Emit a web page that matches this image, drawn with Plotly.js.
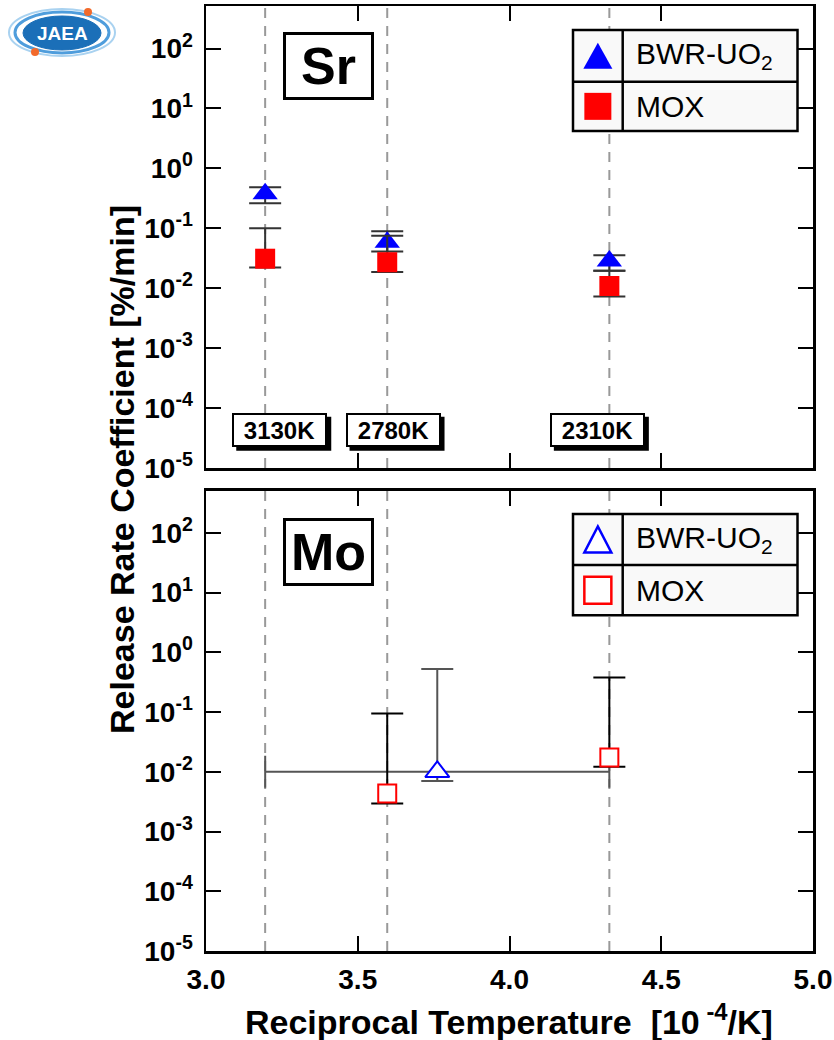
<!DOCTYPE html>
<html>
<head>
<meta charset="utf-8">
<script src="https://cdn.plot.ly/plotly-3.0.1.min.js"></script>
<style>
  html, body { margin: 0; padding: 0; background: #fff; }
  #chart { width: 834px; height: 1040px; }
</style>
</head>
<body>
<div id="chart"></div>
<script>
// Test temperatures [K] and their reciprocal positions [10^-4/K]
const tempK = [3130, 2780, 2310];
const invT = tempK.map(t => 1e4 / t);

// Sr release rate coefficients [%/min]
const srUO2 = [0.376, 0.0584, 0.0285];
const srUO2Hi = [0.485, 0.089, 0.0354];
const srUO2Lo = [0.262, 0.0412, 0.0196];
const srMOX = [0.0311, 0.0272, 0.0109];
const srMOXHi = [0.100, 0.0755, 0.0196];
const srMOXLo = [0.0221, 0.0187, 0.0073];

// Mo release rate coefficients [%/min]
const moMOXTemp = [2780, 2310];
const moMOX = [0.00433, 0.0174];
const moMOXHi = [0.095, 0.381];
const moMOXLo = [0.00296, 0.0122];
// BWR-UO2 Mo: one value spanning the whole temperature range
const moUO2X = [3.762];
const moUO2XSpan = [0.567];
const moUO2 = [0.01];
const moUO2Hi = [0.527];
const moUO2Lo = [0.00705];

// Axis ticks
const yTickVals = [1e-5, 1e-4, 1e-3, 1e-2, 1e-1, 1e0, 1e1, 1e2];
const yTickText = ['10<sup>-5</sup>', '10<sup>-4</sup>', '10<sup>-3</sup>', '10<sup>-2</sup>',
                   '10<sup>-1</sup>', '10<sup>0</sup>', '10<sup>1</sup>', '10<sup>2</sup>'];
const xTickVals = [3.0, 3.5, 4.0, 4.5, 5.0];
const xTickText = ['3.0', '3.5', '4.0', '4.5', '5.0'];

const seriesNames = ['BWR-UO<sub>2</sub>', 'MOX'];
const panelNames = ['Sr', 'Mo'];

const FONT = 'Liberation Sans, Arial, Helvetica, sans-serif';
const BLUE = '#0000ff', RED = '#ff0000';

// plot-area geometry in pixels, for placing decorations in paper units
const L = 206, T = 6, W = 607, H = 945;
const PX = p => (p - L) / W;
const PY = p => (T + H - p) / H;

const up = (v, hi) => hi.map((h, i) => h - v[i]);
const dn = (v, lo) => lo.map((l, i) => v[i] - l);

const errStyle = (color) => ({ type: 'data', symmetric: false, color: color, thickness: 2, width: 16 });

const traces = [
  // Sr panel (top)
  {
    x: invT, y: srUO2, xaxis: 'x2', yaxis: 'y2', mode: 'markers', type: 'scatter',
    marker: { symbol: 'triangle-up', size: 22, color: BLUE, line: { width: 0 } },
    error_y: Object.assign(errStyle('#333333'), { array: up(srUO2, srUO2Hi), arrayminus: dn(srUO2, srUO2Lo) }),
    showlegend: false, hoverinfo: 'x+y'
  },
  {
    x: invT, y: srMOX, xaxis: 'x2', yaxis: 'y2', mode: 'markers', type: 'scatter',
    marker: { symbol: 'square', size: 20, color: RED, line: { width: 0 } },
    error_y: Object.assign(errStyle('#333333'), { array: up(srMOX, srMOXHi), arrayminus: dn(srMOX, srMOXLo) }),
    showlegend: false, hoverinfo: 'x+y'
  },
  // Mo panel (bottom)
  {
    x: moUO2X, y: moUO2, xaxis: 'x', yaxis: 'y', mode: 'markers', type: 'scatter',
    marker: { symbol: 'triangle-up', size: 21, color: '#ffffff', line: { width: 2, color: BLUE } },
    error_y: Object.assign(errStyle('#555555'), { array: up(moUO2, moUO2Hi), arrayminus: dn(moUO2, moUO2Lo) }),
    error_x: { type: 'data', symmetric: true, array: moUO2XSpan, color: '#555555', thickness: 2, width: 16 },
    showlegend: false, hoverinfo: 'x+y'
  },
  {
    x: moMOXTemp.map(t => 1e4 / t), y: moMOX, xaxis: 'x', yaxis: 'y', mode: 'markers', type: 'scatter',
    marker: { symbol: 'square', size: 18, color: '#ffffff', line: { width: 2, color: RED } },
    error_y: Object.assign(errStyle('#000000'), { array: up(moMOX, moMOXHi), arrayminus: dn(moMOX, moMOXLo) }),
    showlegend: false, hoverinfo: 'x+y'
  }
];

const tickFont = { family: FONT, size: 28, color: '#000', weight: 'bold' };

const xBase = {
  range: [3, 5], tickvals: xTickVals, ticktext: xTickText,
  ticks: 'inside', ticklen: 15, tickwidth: 2, tickcolor: '#000',
  showline: true, linewidth: 2.5, linecolor: '#000', mirror: 'ticks',
  showgrid: false, zeroline: false, tickfont: tickFont, ticklabelstandoff: 2
};
const yBase = {
  type: 'log', range: [-5, 2.71], tickvals: yTickVals, ticktext: yTickText,
  ticks: 'inside', ticklen: 15, tickwidth: 2, tickcolor: '#000',
  showline: true, linewidth: 2.5, linecolor: '#000', mirror: 'ticks',
  showgrid: false, zeroline: false, tickfont: tickFont, ticklabelstandoff: 5
};

const shapes = [];
const annotations = [];

// dashed guide lines at each test temperature, in both panels
invT.forEach(x => {
  [['x2', 'y2 domain'], ['x', 'y domain']].forEach(([xr, yr]) => {
    shapes.push({ type: 'line', xref: xr, yref: yr, x0: x, x1: x, y0: 0, y1: 1, layer: 'below',
                  line: { color: '#999999', width: 2, dash: '10px,8px' } });
  });
});

// temperature tags with a drop shadow
const tagShift = [14.6, 5.8, -12];
const tagTop = 412.7, tagBottom = 446.7, tagHalfW = 47.5, shadow = 4;
tempK.forEach((t, i) => {
  shapes.push({ type: 'rect', xref: 'x2', yref: 'paper', xsizemode: 'pixel', xanchor: invT[i],
                x0: tagShift[i] - tagHalfW + shadow, x1: tagShift[i] + tagHalfW + shadow,
                y0: PY(tagBottom + shadow), y1: PY(tagTop + shadow),
                fillcolor: '#000', line: { width: 0 }, layer: 'above' });
  annotations.push({ xref: 'x2', yref: 'paper', x: invT[i], y: PY((tagTop + tagBottom) / 2),
                     xanchor: 'center', yanchor: 'middle', xshift: tagShift[i],
                     text: '<b>' + t + 'K</b>', showarrow: false, width: 91, height: 30,
                     borderpad: 0, borderwidth: 2, bordercolor: '#000', bgcolor: '#fff',
                     font: { family: FONT, size: 24, color: '#000' } });
});

// element name boxes
[[panelNames[0], 66], [panelNames[1], 552]].forEach(([name, cy]) => {
  annotations.push({ xref: 'paper', yref: 'paper', x: PX(328), y: PY(cy), xanchor: 'center', yanchor: 'middle',
                     text: '<b>' + name + '</b>', showarrow: false, width: 85, height: 62, borderpad: 0,
                     borderwidth: 3, bordercolor: '#000', bgcolor: '#fff',
                     font: { family: FONT, size: 52, color: '#000' } });
});

// table-style legends
function legendBox(top, bottom, mid, filled) {
  const x0 = 573, x1 = 797.5, xd = 622.7;
  shapes.push({ type: 'rect', xref: 'paper', yref: 'paper', x0: PX(x0), x1: PX(x1), y0: PY(bottom), y1: PY(top),
                fillcolor: '#f9f9f9', line: { color: '#000', width: 2.5 } });
  shapes.push({ type: 'line', xref: 'paper', yref: 'paper', x0: PX(xd), x1: PX(xd), y0: PY(bottom), y1: PY(top),
                line: { color: '#000', width: 2.5 } });
  shapes.push({ type: 'line', xref: 'paper', yref: 'paper', x0: PX(x0), x1: PX(x1), y0: PY(mid), y1: PY(mid),
                line: { color: '#000', width: 2.5 } });
  const cx = (x0 + xd) / 2;
  const r1 = (top + mid) / 2, r2 = (mid + bottom) / 2;
  // triangle glyph
  const tw = filled ? 14.5 : 13.5, th = 13;
  const tri = 'M ' + PX(cx - tw) + ' ' + PY(r1 + th) + ' L ' + PX(cx + tw) + ' ' + PY(r1 + th) +
              ' L ' + PX(cx) + ' ' + PY(r1 - th) + ' Z';
  shapes.push({ type: 'path', xref: 'paper', yref: 'paper', path: tri,
                fillcolor: filled ? BLUE : '#fff', line: { color: BLUE, width: filled ? 0 : 2.5 } });
  // square glyph
  const s = 13.5;
  shapes.push({ type: 'rect', xref: 'paper', yref: 'paper', x0: PX(cx - s), x1: PX(cx + s),
                y0: PY(r2 + s), y1: PY(r2 - s),
                fillcolor: filled ? RED : '#fff', line: { color: RED, width: filled ? 0 : 2.5 } });
  [[seriesNames[0], r1], [seriesNames[1], r2]].forEach(([txt, cy]) => {
    annotations.push({ xref: 'paper', yref: 'paper', x: PX(634), y: PY(cy), xanchor: 'left', yanchor: 'middle',
                       text: txt, showarrow: false, font: { family: FONT, size: 30, color: '#000' } });
  });
}
legendBox(30, 131, 81.7, true);
legendBox(514, 615.3, 565, false);

// axis titles
annotations.push({ xref: 'paper', yref: 'paper', x: PX(122), y: PY(470), xanchor: 'center', yanchor: 'middle',
                   textangle: -90, text: '<b>Release Rate Coefficient [%/min]</b>', showarrow: false,
                   font: { family: FONT, size: 34, color: '#000' } });
annotations.push({ xref: 'paper', yref: 'paper', x: PX(509), y: PY(1019), xanchor: 'center', yanchor: 'middle',
                   text: '<b>Reciprocal Temperature \u00a0[10<sup> -4</sup>/K]</b>', showarrow: false,
                   font: { family: FONT, size: 34, color: '#000' } });

// JAEA mark
shapes.push({ type: 'circle', xref: 'paper', yref: 'paper', x0: PX(9), x1: PX(115), y0: PY(56), y1: PY(9),
              line: { color: '#a9d2f0', width: 2 }, layer: 'above' });
shapes.push({ type: 'circle', xref: 'paper', yref: 'paper', x0: PX(15), x1: PX(109), y0: PY(53), y1: PY(12),
              line: { color: '#4f9ddc', width: 3 }, layer: 'above' });
shapes.push({ type: 'circle', xref: 'paper', yref: 'paper', x0: PX(23), x1: PX(101), y0: PY(50), y1: PY(16),
              fillcolor: '#1b6fb8', line: { color: '#1b6fb8', width: 1 }, layer: 'above' });
[[88, 12], [35, 52]].forEach(([x, y]) => {
  shapes.push({ type: 'circle', xref: 'paper', yref: 'paper', x0: PX(x - 4), x1: PX(x + 4), y0: PY(y + 4), y1: PY(y - 4),
                fillcolor: '#f26a2b', line: { width: 0 }, layer: 'above' });
});
annotations.push({ xref: 'paper', yref: 'paper', x: PX(62), y: PY(33), xanchor: 'center', yanchor: 'middle',
                   text: '<b>JAEA</b>', showarrow: false,
                   font: { family: FONT, size: 19, color: '#fff' } });

const layout = {
  width: 834, height: 1040,
  margin: { l: L, r: 834 - L - W, t: T, b: 1040 - T - H },
  paper_bgcolor: '#fff', plot_bgcolor: '#fff',
  font: { family: FONT, color: '#000' },
  showlegend: false,
  xaxis: Object.assign({}, xBase, { anchor: 'y' }),
  yaxis: Object.assign({}, yBase, { domain: [0, 0.4873], anchor: 'x' }),
  xaxis2: Object.assign({}, xBase, { anchor: 'y2', matches: 'x', showticklabels: false }),
  yaxis2: Object.assign({}, yBase, { domain: [0.5111, 1], anchor: 'x2' }),
  shapes: shapes,
  annotations: annotations
};

Plotly.newPlot('chart', traces, layout, { displayModeBar: false, staticPlot: true });
</script>
</body>
</html>
